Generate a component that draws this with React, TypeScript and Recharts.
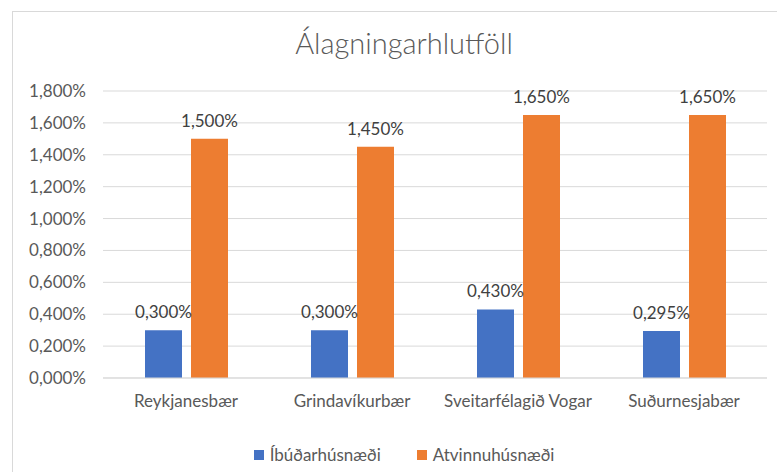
import React from 'react';
import { BarChart, Bar, XAxis, YAxis, CartesianGrid, Legend, LabelList } from 'recharts';

const categories = ['Reykjanesbær', 'Grindavíkurbær', 'Sveitarfélagið Vogar', 'Suðurnesjabær'];
const ibudarhusnaedi = [0.3, 0.3, 0.43, 0.295];
const atvinnuhusnaedi = [1.5, 1.45, 1.65, 1.65];
const yTicks = [0, 0.2, 0.4, 0.6, 0.8, 1.0, 1.2, 1.4, 1.6, 1.8];
const seriesNames = ['Íbúðarhúsnæði', 'Atvinnuhúsnæði'];

const data = categories.map((name, i) => ({
  name,
  ibud: ibudarhusnaedi[i],
  atv: atvinnuhusnaedi[i],
}));

const FONT = 'Lato, "Open Sans", sans-serif';
const pct = (v: any) => Number(v).toFixed(3).replace('.', ',') + '%';

const LegendContent = (props: any) => {
  // keep series order, not alphabetical
  const payload = [...(props.payload || [])].sort(
    (a: any, b: any) => seriesNames.indexOf(a.value) - seriesNames.indexOf(b.value)
  );
  return (
    <div style={{ display: 'flex', justifyContent: 'center', fontFamily: FONT, fontSize: 17, color: '#595959' }}>
      {payload.map((p: any, i: number) => (
        <div key={i} style={{ display: 'flex', alignItems: 'center', marginRight: i < payload.length - 1 ? 36 : 0 }}>
          <span style={{ width: 10, height: 10, background: p.color, display: 'inline-block', marginRight: 6 }} />
          <span>{p.value}</span>
        </div>
      ))}
    </div>
  );
};

export default function App() {
  return (
    <div style={{ position: 'fixed', left: 0, top: 0, width: 777, height: 472, background: '#fff', overflow: 'hidden' }}>
      <div
        style={{
          position: 'absolute',
          left: 12,
          top: 11,
          width: 800,
          height: 500,
          border: '1px solid #d9d9d9',
          boxSizing: 'border-box',
        }}
      />
      <div
        style={{
          position: 'absolute',
          top: 25,
          left: 0,
          width: 808,
          textAlign: 'center',
          fontFamily: FONT,
          fontWeight: 300,
          fontSize: 29,
          color: '#595959',
        }}
      >
        Álagningarhlutföll
      </div>
      <div style={{ position: 'absolute', left: 0, top: 0 }}>
        <BarChart
          width={777}
          height={472}
          data={data}
          margin={{ top: 91, right: 10, left: 0, bottom: 64 }}
          barGap={9}
          barSize={37}
        >
          <CartesianGrid vertical={false} stroke="#d9d9d9" strokeWidth={1} />
          <XAxis
            dataKey="name"
            axisLine={{ stroke: '#d9d9d9' }}
            tickLine={false}
            tickSize={0}
            tickMargin={17}
            height={30}
            interval={0}
            tick={{ fill: '#595959', fontSize: 17, fontFamily: FONT }}
          />
          <YAxis
            domain={[0, 1.8]}
            ticks={yTicks}
            axisLine={false}
            tickLine={false}
            tickSize={0}
            tickMargin={17}
            width={103}
            tickFormatter={pct}
            tick={{ fill: '#595959', fontSize: 17, fontFamily: FONT }}
          />
          <Legend
            verticalAlign="middle"
            align="center"
            layout="horizontal"
            content={<LegendContent />}
            wrapperStyle={{ top: 444, left: 0, width: 808 }}
          />
          <Bar dataKey="ibud" name={seriesNames[0]} fill="#4472C4" isAnimationActive={false}>
            <LabelList dataKey="ibud" position="top" offset={12} formatter={pct} fill="#404040" fontSize={17} fontFamily={FONT} />
          </Bar>
          <Bar dataKey="atv" name={seriesNames[1]} fill="#ED7D31" isAnimationActive={false}>
            <LabelList dataKey="atv" position="top" offset={12} formatter={pct} fill="#404040" fontSize={17} fontFamily={FONT} />
          </Bar>
        </BarChart>
      </div>
    </div>
  );
}
